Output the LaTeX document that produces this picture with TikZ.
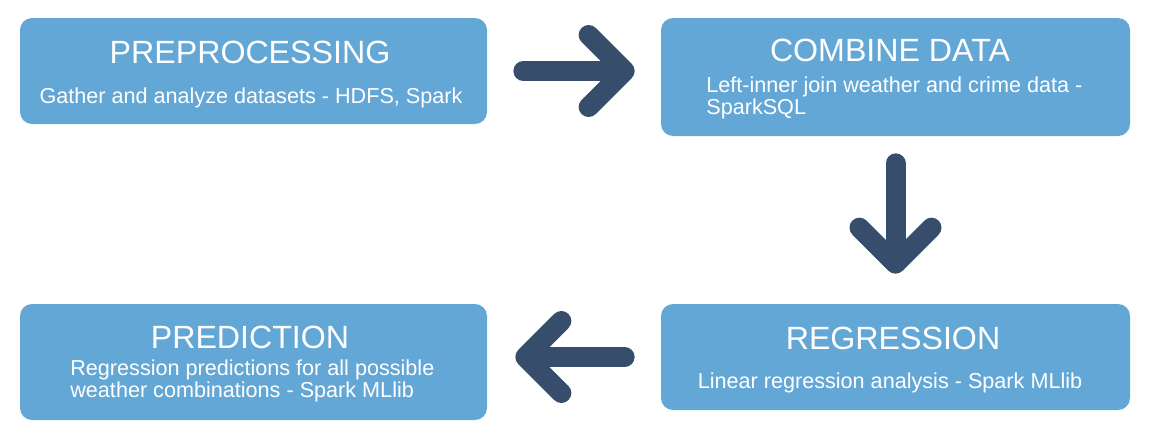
\documentclass[tikz,border=0pt]{standalone}
\usepackage{fontspec}
\setmainfont{Liberation Sans}
\usetikzlibrary{arrows.meta,positioning}
\definecolor{boxblue}{HTML}{63A7D6}
\definecolor{arrowblue}{HTML}{364E6B}
\tikzset{
	stage/.style={fill=boxblue,rounded corners=0.24cm,inner sep=0pt},
	ttl/.style={text=white,font=\fontsize{18.3}{21}\selectfont},
	sub/.style={text=white,inner sep=0pt,font=\fontsize{12.3}{12.8}\selectfont},
	flow/.style={arrowblue,line width=0.4cm,line cap=round,
		-{Straight Barb[round,length=0.72cm,width=1.44cm]}}
}
\begin{document}
\begin{tikzpicture}
            \useasboundingbox (0,0) rectangle (23.08,-8.8);
            \node[stage,minimum width=9.34cm,minimum height=2.12cm] (pre) at (5.07,-1.42) {};
            \node[stage,minimum width=9.38cm,minimum height=2.36cm] (com) at (17.91,-1.54) {};
            \node[stage,minimum width=9.38cm,minimum height=2.12cm] (reg) at (17.91,-7.14) {};
            \node[stage,minimum width=9.34cm,minimum height=2.32cm] (prd) at (5.07,-7.24) {};
            \node[ttl] (pret) at (5.0,-1.04) {PREPROCESSING};
            \node[sub] (pres) at (5.02,-1.96) {Gather and analyze datasets - HDFS, Spark};
            \node[ttl] (comt) at (17.8,-1.0) {COMBINE DATA};
            \node[sub,align=left,anchor=west] (coms) at (14.12,-1.96) {Left-inner join weather and crime data -\\SparkSQL};
            \node[ttl] (regt) at (17.86,-6.76) {REGRESSION};
            \node[sub] (regs) at (17.8,-7.66) {Linear regression analysis - Spark MLlib};
            \node[ttl] (prdt) at (5.0,-6.74) {PREDICTION};
            \node[sub,align=left,anchor=west] (prds) at (1.4,-7.62) {Regression predictions for all possible\\weather combinations - Spark MLlib};
            \draw[flow,shorten <=0.72cm,shorten >=0.52cm] (pre.east) -- (pre.east -| com.west);
            \draw[flow,shorten <=0.54cm,shorten >=0.6cm] (com.south) -- (reg.north);
            \draw[flow,shorten <=0.72cm,shorten >=0.56cm] (reg.west) -- (reg.west -| prd.east);
        \end{tikzpicture}
\end{document}
